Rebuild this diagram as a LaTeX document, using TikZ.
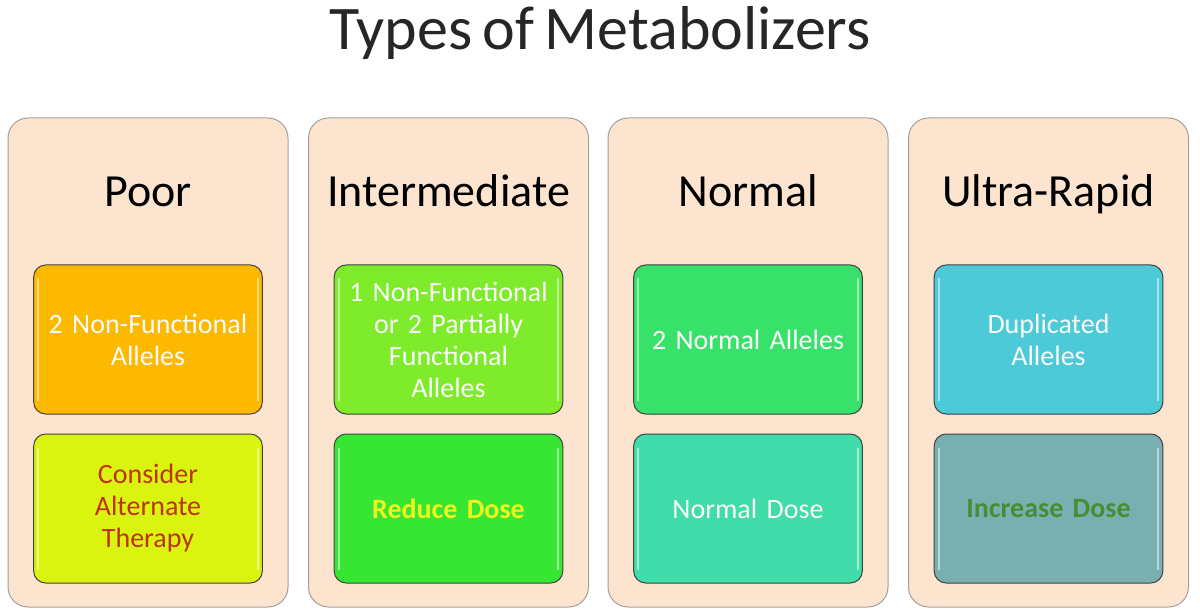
\documentclass[tikz,border=0pt]{standalone}
\usepackage{fontspec}
\setmainfont{Carlito}[WordSpace=0.75]
\usetikzlibrary{positioning}

\definecolor{colfill}{RGB}{252,228,207}
\definecolor{colline}{RGB}{165,160,155}
\definecolor{poorgene}{RGB}{253,184,0}
\definecolor{poordose}{RGB}{218,244,16}
\definecolor{intergene}{RGB}{126,236,42}
\definecolor{interdose}{RGB}{54,230,50}
\definecolor{normgene}{RGB}{56,226,106}
\definecolor{normdose}{RGB}{64,220,170}
\definecolor{ultragene}{RGB}{76,202,216}
\definecolor{ultradose}{RGB}{120,176,178}
\definecolor{darkred}{RGB}{190,52,18}
\definecolor{brightyellow}{RGB}{236,246,30}
\definecolor{darkgreen}{RGB}{72,140,52}

\begin{document}
\begin{tikzpicture}[x=1pt, y=-1pt]
\tikzstyle{column}=[draw=colline, line width=1pt, fill=colfill, rounded corners=20pt, minimum width=280pt, minimum height=489pt]
\tikzstyle{header}=[font=\fontsize{46}{50}\selectfont, anchor=base]
\tikzstyle{shine}=[draw=white, draw opacity=0.5, line width=2pt]
\tikzstyle{cell}=[draw=black!75, line width=1pt, rounded corners=12pt, minimum width=227pt, minimum height=149pt, align=center, text width=222pt, font=\fontsize{28}{32}\selectfont, text=white!96!gray,
  append after command={
    ([xshift=5pt,yshift=-14pt]\tikzlastnode.north west) edge[shine] ([xshift=5pt,yshift=14pt]\tikzlastnode.south west)
    ([xshift=-5pt,yshift=-14pt]\tikzlastnode.north east) edge[shine] ([xshift=-5pt,yshift=14pt]\tikzlastnode.south east)}]
\useasboundingbox (0,0) rectangle (1200,612);
\node[font=\fontsize{62}{68}\selectfont, text=black!85, anchor=base] (title) at (600,50) {Types of Metabolizers};
% columns
\node[column] (poor) at (148,362.5) {};
\node[column] (inter) at (448.5,362.5) {};
\node[column] (norm) at (748,362.5) {};
\node[column] (ultra) at (1048.5,362.5) {};
\node[header] (poorhead) at (148,207) {Poor};
\node[header] (interhead) at (448.5,207) {Intermediate};
\node[header] (normhead) at (748,207) {Normal};
\node[header] (ultrahead) at (1048.5,207) {Ultra-Rapid};
% alleles
\node[cell, fill=poorgene] (poorallele) at (148,339.5) {2 Non-Functional\\Alleles};
\node[cell, fill=intergene] (interallele) at (448.5,339.5) {1 Non-Functional\\or 2 Partially\\Functional\\Alleles};
\node[cell, fill=normgene] (normallele) at (748,339.5) {2 Normal Alleles};
\node[cell, fill=ultragene] (ultraallele) at (1048.5,339.5) {Duplicated\\Alleles};
% doses
\node[cell, fill=poordose, text=darkred, below=19pt of poorallele] (poordose) {Consider\\Alternate\\Therapy};
\node[cell, fill=interdose, text=brightyellow, font=\fontsize{28}{32}\selectfont\bfseries, below=19pt of interallele] (interdose) {Reduce Dose};
\node[cell, fill=normdose, below=19pt of normallele] (normdose) {Normal Dose};
\node[cell, fill=ultradose, text=darkgreen, font=\fontsize{28}{32}\selectfont\bfseries, below=19pt of ultraallele] (ultradose) {Increase Dose};
\end{tikzpicture}
\end{document}
